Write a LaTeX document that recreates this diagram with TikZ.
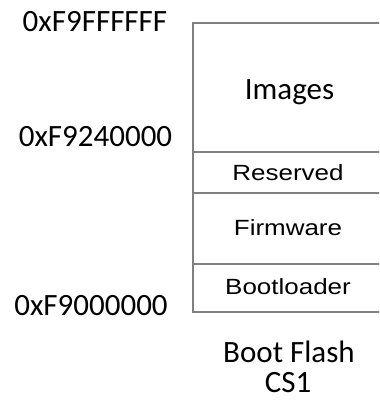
\documentclass[tikz,border=0pt]{standalone}
\usepackage{fontspec}
\setmainfont{Carlito}
\newfontfamily\arialfont{Liberation Sans}
\begin{document}
\begin{tikzpicture}[x=0.5pt,y=-0.5pt,
  boxline/.style={draw=black!50, line width=1pt},
  calib/.style={inner sep=0pt, anchor=base, font=\fontsize{15.5}{18}\selectfont},
  arial/.style={inner sep=0pt, anchor=base, font=\arialfont\fontsize{11}{13}\selectfont}]
\path[use as bounding box] (0,0) rectangle (379,405);
\clip (0,0) rectangle (379,405);
% memory column
\coordinate (tl) at (193,23);
\coordinate (tr) at (390,23);
\coordinate (bl) at (193,312);
\coordinate (br) at (390,312);
\draw[boxline] (tr) -- (tl) -- (bl) -- (br);
\foreach \yy/\nm in {152/a,193/b,264/c}{
  \coordinate (l\nm) at (193,\yy);
  \coordinate (r\nm) at (390,\yy);
  \draw[boxline] (l\nm) -- (r\nm);
}
% section labels
\node[calib] (images) at (289.5,100) {Images};
\node[arial] (reserved) at (288,180.5) {\scalebox{1.18}[1]{Reserved}};
\node[arial] (firmware) at (288,235) {\scalebox{1.18}[1]{Firmware}};
\node[arial] (boot) at (288,294) {\scalebox{1.18}[1]{Bootloader}};
% addresses
\node[calib] (a1) at (95,32) {0xF9FFFFFF};
\node[calib] (a2) at (95.5,147) {0xF9240000};
\node[calib] (a3) at (91,315) {0xF9000000};
% caption
\node[calib] (cap1) at (289,362) {Boot Flash};
\node[calib] (cap2) at (288,392) {CS1};
\end{tikzpicture}
\end{document}
